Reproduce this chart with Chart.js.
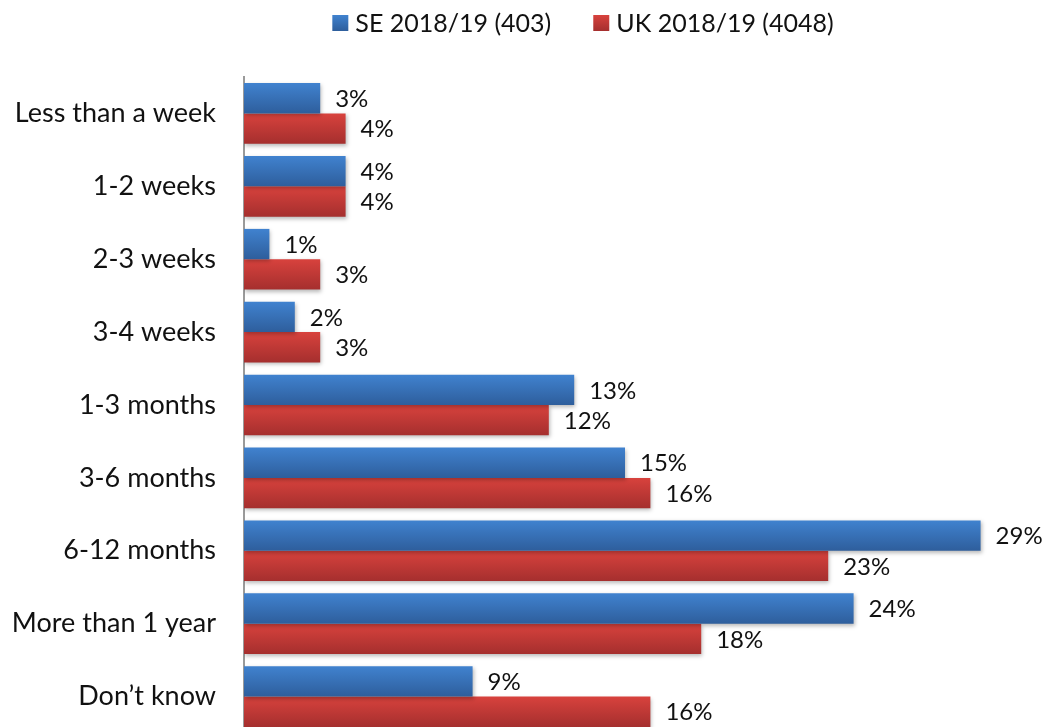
<!DOCTYPE html>
<html>
<head>
<meta charset="utf-8">
<script src="https://cdn.jsdelivr.net/npm/chart.js@4/dist/chart.umd.min.js"></script>
<style>
  html, body { margin:0; padding:0; background:#fff; overflow:hidden; }
  canvas { display:block; }
</style>
</head>
<body>
<canvas id="c" width="1050" height="733"></canvas>
<script>
// --- datos ---
const categories = ['Less than a week','1-2 weeks','2-3 weeks','3-4 weeks','1-3 months','3-6 months','6-12 months','More than 1 year','Don\u2019t know'];
const seValues = [3, 4, 1, 2, 13, 15, 29, 24, 9];
const ukValues = [4, 4, 3, 3, 12, 16, 23, 18, 16];
const seriesLabels = ['SE 2018/19 (403)', 'UK 2018/19 (4048)'];

const FONT = 'Lato, "Open Sans", sans-serif';
// colores: arriba / abajo del degradado
const shades = [
  { top:'#4082cf', bottom:'#2e5e9c', flat:'#3a70b8' },
  { top:'#d8423d', bottom:'#a52f2e', flat:'#c53a36' }
];

// degradado vertical por barra + sombra ligera
const barStyle = {
  id:'barStyle',
  beforeDatasetsDraw(chart){
    const ctx = chart.ctx;
    chart.data.datasets.forEach((ds, i) => {
      chart.getDatasetMeta(i).data.forEach(bar => {
        const t = bar.y - bar.height/2, b = bar.y + bar.height/2;
        const g = ctx.createLinearGradient(0, t, 0, b);
        g.addColorStop(0, shades[i].top);
        g.addColorStop(1, shades[i].bottom);
        // copia propia para no tocar opciones compartidas
        const o = {};
        for (const k of ['borderColor','borderWidth','borderSkipped','borderRadius','inflateAmount','base','pointStyle']) o[k] = bar.options[k];
        o.backgroundColor = g;
        bar.options = o;
      });
    });
    ctx.save();
    ctx.shadowColor = 'rgba(0,0,0,0.28)';
    ctx.shadowBlur = 4;
    ctx.shadowOffsetX = 1;
    ctx.shadowOffsetY = 2;
  },
  afterDatasetsDraw(chart){
    chart.ctx.restore();
    // etiquetas de valor
    const ctx = chart.ctx;
    ctx.save();
    ctx.font = `24px ${FONT}`;
    ctx.fillStyle = '#111';
    ctx.textAlign = 'left';
    ctx.textBaseline = 'middle';
    chart.data.datasets.forEach((ds, i) => {
      chart.getDatasetMeta(i).data.forEach((bar, j) => {
        ctx.fillText(ds.data[j] + '%', bar.x + 15, bar.y + 1);
      });
    });
    ctx.restore();
  }
};

// leyenda dibujada a mano (centrada arriba)
const topLegend = {
  id:'topLegend',
  afterDraw(chart){
    const ctx = chart.ctx;
    const box = 16, gap = 7, itemGap = 42, cy = 23, cx = 583;
    ctx.save();
    ctx.font = `25px ${FONT}`;
    const widths = seriesLabels.map(s => ctx.measureText(s).width);
    const total = widths.reduce((a,w)=> a + box + gap + w, 0) + itemGap*(seriesLabels.length-1);
    let x = cx - total/2;
    seriesLabels.forEach((s, i) => {
      const g = ctx.createLinearGradient(0, cy-box/2, 0, cy+box/2);
      g.addColorStop(0, shades[i].top); g.addColorStop(1, shades[i].bottom);
      ctx.fillStyle = g;
      ctx.fillRect(x, cy-box/2, box, box);
      x += box + gap;
      ctx.fillStyle = '#111';
      ctx.textBaseline = 'middle';
      ctx.fillText(s, x, cy + 1);
      x += widths[i] + itemGap;
    });
    ctx.restore();
  }
};

new Chart(document.getElementById('c'), {
  type:'bar',
  data:{
    labels: categories,
    datasets:[
      { label: seriesLabels[0], data: seValues, backgroundColor: shades[0].flat, borderWidth:0 },
      { label: seriesLabels[1], data: ukValues, backgroundColor: shades[1].flat, borderWidth:0 }
    ]
  },
  options:{
    indexAxis:'y',
    responsive:false,
    animation:false,
    categoryPercentage:0.832,
    barPercentage:1.0,
    layout:{ padding:{ top:77, right:44, bottom:0, left:0 } },
    plugins:{ legend:{ display:false }, tooltip:{ enabled:false } },
    scales:{
      x:{ display:false, min:0, max:30 },
      y:{
        grid:{ display:false, drawTicks:false },
        border:{ display:true, color:'#9a9a9a', width:2 },
        ticks:{ color:'#111', font:{ family:FONT, size:27 }, padding:28 },
        afterFit(scale){ scale.width = 244; scale.paddingTop = 0; scale.paddingBottom = 0; }
      }
    }
  },
  plugins:[barStyle, topLegend]
});
</script>
</body>
</html>
